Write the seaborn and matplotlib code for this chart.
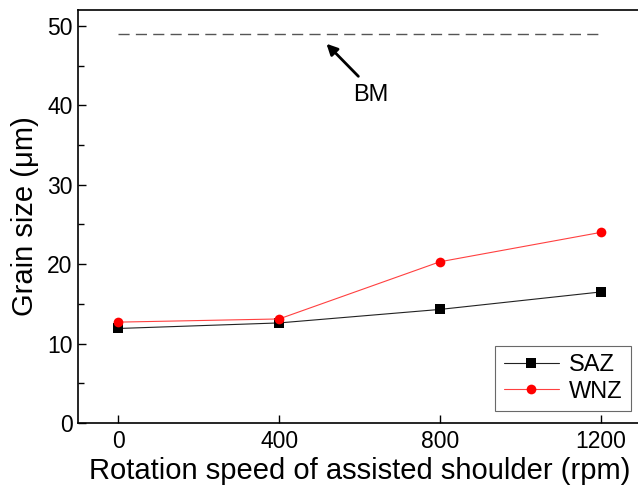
import numpy as np
import pandas as pd
import matplotlib
matplotlib.use("Agg")
import matplotlib.pyplot as plt
import seaborn as sns

speeds = [0, 400, 800, 1200]
saz = [11.9, 12.6, 14.3, 16.5]
wnz = [12.7, 13.1, 20.3, 24.0]
bm_value = 49.0
series_names = ["SAZ", "WNZ"]

sns.set_theme(style="ticks")
plt.rcParams['font.family'] = ['Liberation Sans', 'DejaVu Sans']
plt.rcParams['text.color'] = 'black'
plt.rcParams['axes.labelcolor'] = 'black'
plt.rcParams['xtick.color'] = 'black'
plt.rcParams['ytick.color'] = 'black'

df = pd.DataFrame({
    "speed": speeds * 2,
    "size": saz + wnz,
    "zone": ["SAZ"] * 4 + ["WNZ"] * 4,
})

fig = plt.figure(figsize=(6.38, 4.92), dpi=100)
ax = fig.add_axes([78 / 638, 1 - 423 / 492, (641 - 78) / 638, (423 - 10) / 492])

sns.lineplot(data=df, x="speed", y="size", hue="zone", style="zone",
             hue_order=series_names, style_order=series_names,
             palette={"SAZ": "black", "WNZ": "red"},
             markers={"SAZ": "s", "WNZ": "o"}, dashes=False,
             markersize=7, linewidth=0.8, markeredgewidth=0, ax=ax)

# lighter connecting lines, solid markers
for ln in ax.lines:
    c = ln.get_color()
    if c in ("red", "#ff0000") or (isinstance(c, tuple) and c[0] > 0.9 and c[1] < 0.1):
        ln.set_color("#ff4040")
        ln.set_markerfacecolor("red")
        ln.set_markeredgecolor("red")
    else:
        ln.set_color("#222222")
        ln.set_markerfacecolor("black")
        ln.set_markeredgecolor("black")

ax.plot([speeds[0], speeds[-1]], [bm_value, bm_value], color="#555555",
        linewidth=1.0, dashes=(8, 4.5))
ax.annotate("", xy=(513, 48.0), xytext=(602, 43.4),
            arrowprops=dict(arrowstyle="-|>", color="black", lw=2,
                            mutation_scale=16))
ax.text(628, 41.3, "BM", fontsize=17, ha="center", va="center")

ax.set_xlim(-100, 1300)
ax.set_ylim(0, 52)
ax.set_xticks(speeds)
ax.set_yticks([0, 10, 20, 30, 40, 50])
ax.set_yticks([5, 15, 25, 35, 45], minor=True)
ax.tick_params(axis="both", which="major", direction="in", length=6, width=1,
               labelsize=16.5, colors="black")
ax.tick_params(axis="x", which="major", pad=5)
ax.tick_params(axis="y", which="major", pad=4)
ax.tick_params(axis="y", which="minor", direction="in", length=4, width=1)
for s in ax.spines.values():
    s.set_linewidth(1.2)
    s.set_color("black")

ax.set_xlabel("Rotation speed of assisted shoulder (rpm)", fontsize=21, labelpad=3)
ax.set_ylabel("Grain size (\u03bcm)", fontsize=21, labelpad=6)

leg = ax.legend(title=None, loc="lower right",
                bbox_to_anchor=(631 / 638, 1 - 411 / 492),
                bbox_transform=fig.transFigure,
                fontsize=17, frameon=True, fancybox=False, edgecolor="#444444",
                borderaxespad=0, handlelength=2.35, handletextpad=0.42,
                labelspacing=0.2, borderpad=0.35)
leg.get_frame().set_linewidth(0.8)
for t in leg.get_texts():
    t.set_color("black")

fig.savefig("out.png", dpi=100)
